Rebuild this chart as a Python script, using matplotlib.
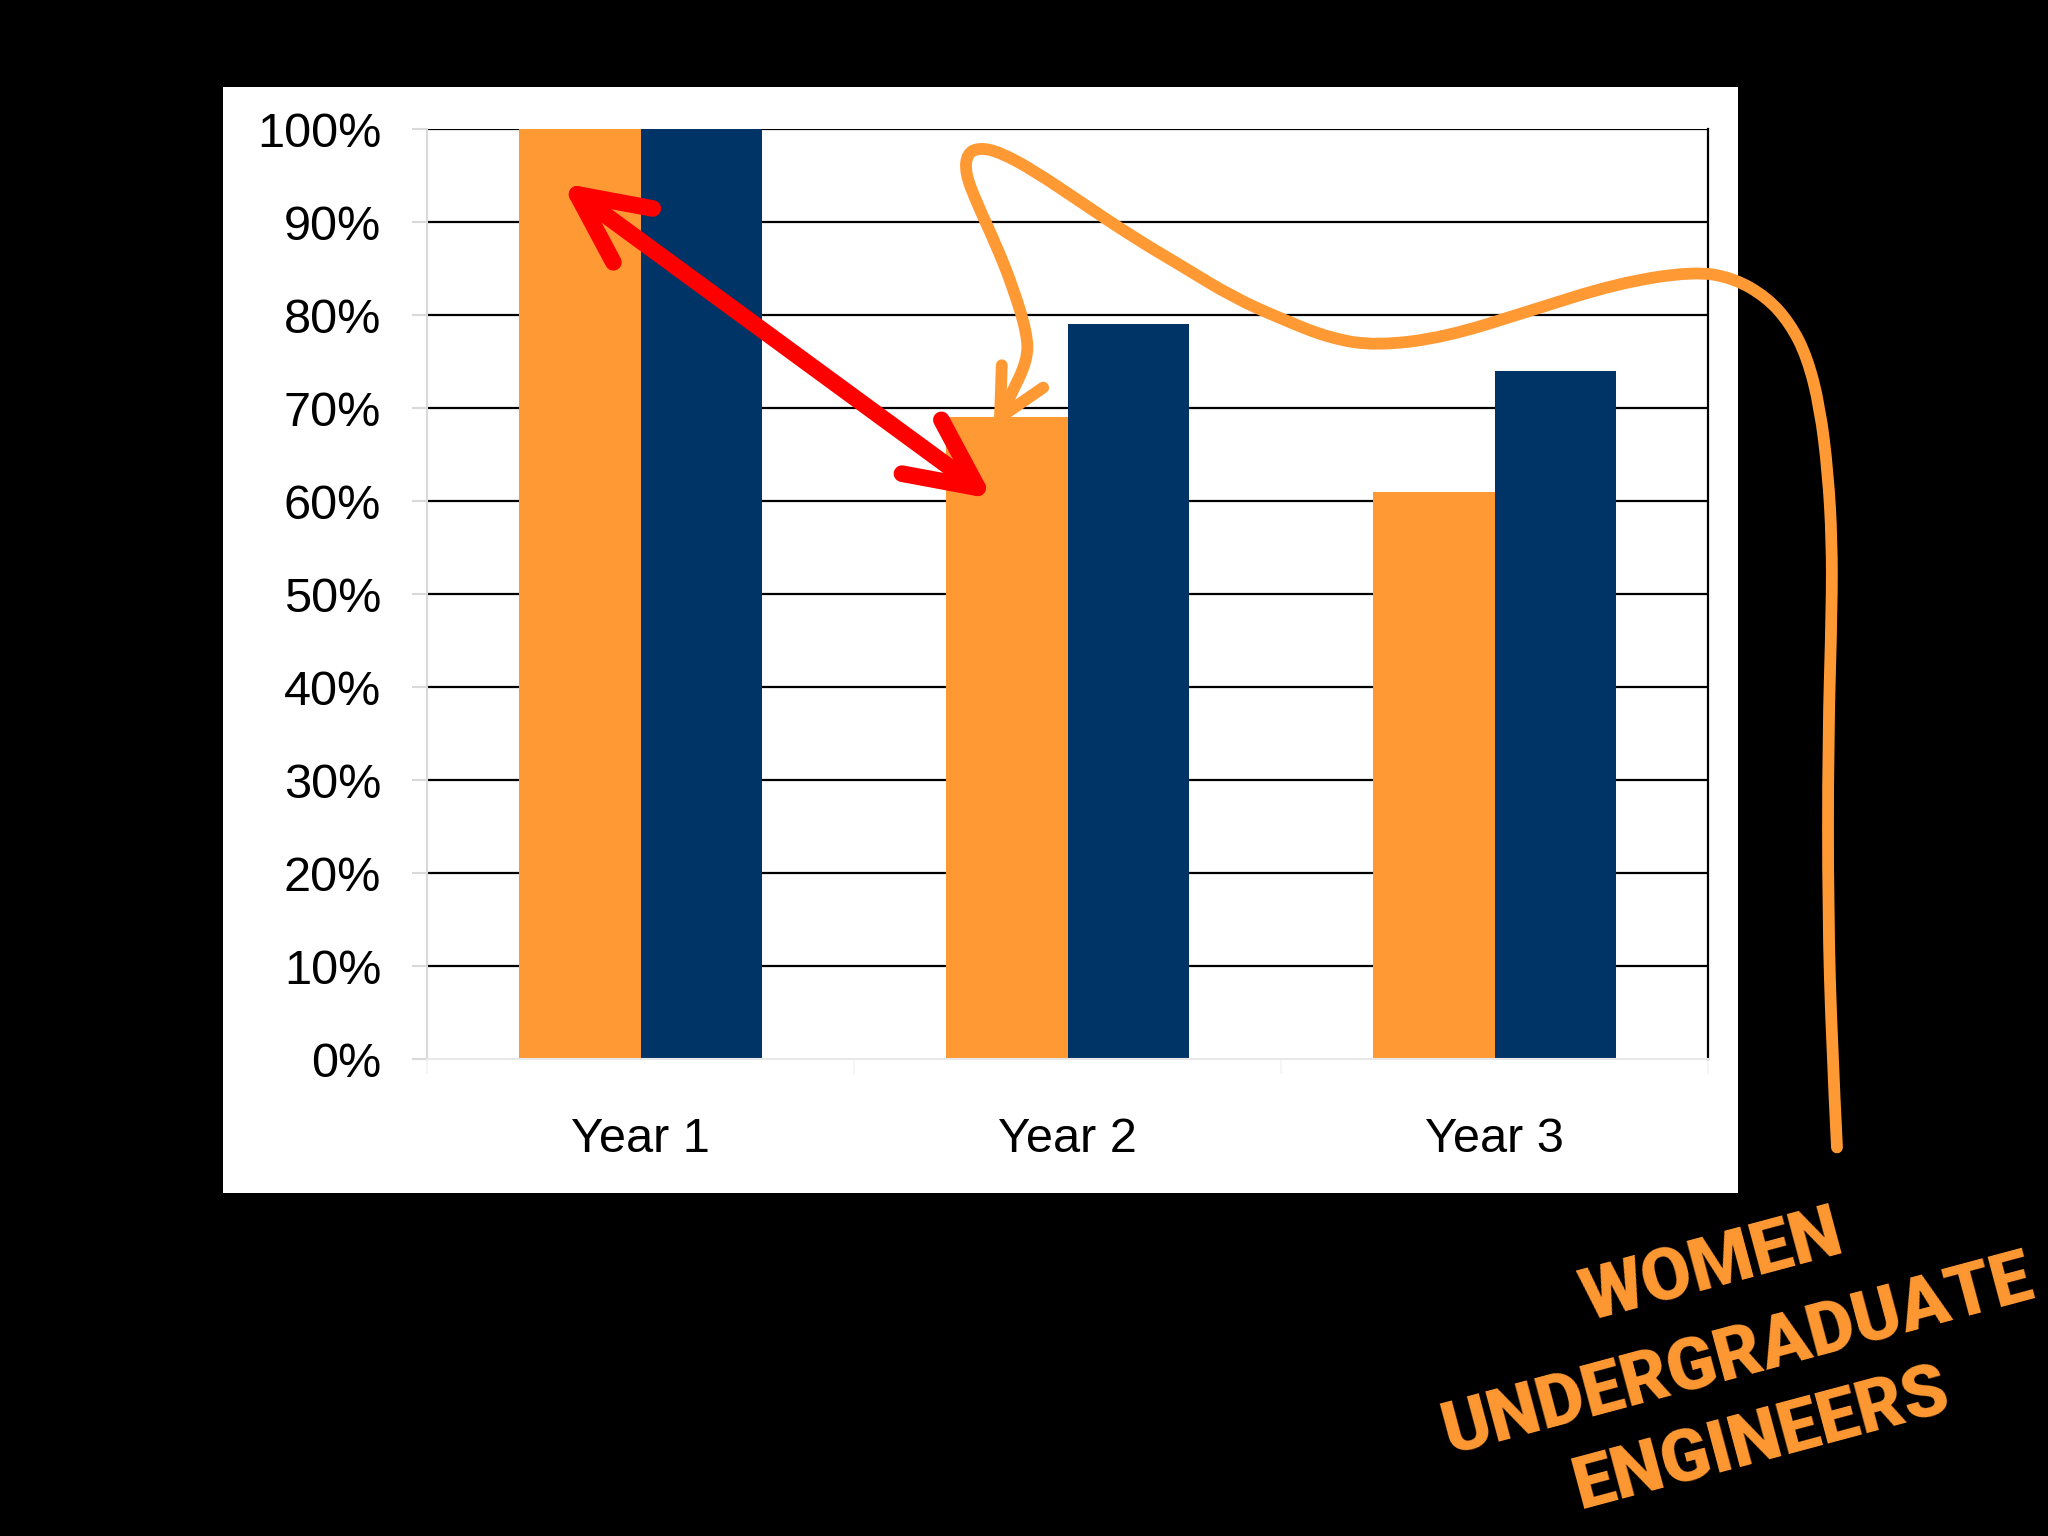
import numpy as np
import matplotlib
matplotlib.use("Agg")
import matplotlib.pyplot as plt
from matplotlib.patches import Rectangle, FancyArrowPatch, PathPatch, ArrowStyle
from matplotlib.path import Path

# ---------------------------------------------------------------
# Datos del gráfico
# ---------------------------------------------------------------
categorias = ["Year 1", "Year 2", "Year 3"]
serie_naranja = [100, 69, 61]   # mujeres
serie_azul = [100, 79, 74]      # referencia
ticks_y = list(range(0, 101, 10))

NARANJA = "#FF9933"
AZUL = "#003366"
ROJO = "#FF0000"

# Trazos a mano alzada (coordenadas de datos: categoría, %)
flecha_roja_a = (-0.185, 94.2)
flecha_roja_b = (0.826, 60.2)

curva_x = [0.842, 0.865, 0.907, 0.905, 0.872, 0.835, 0.788, 0.760, 0.765, 0.795,
           0.842, 0.919, 1.036, 1.153, 1.270, 1.388, 1.505, 1.615, 1.722, 1.884,
           2.086, 2.287, 2.465, 2.559, 2.638, 2.692, 2.732, 2.762, 2.781, 2.790,
           2.790, 2.781, 2.781, 2.790, 2.802]
curva_y = [69.0, 71.2, 75.2, 78.1, 83.0, 87.3, 92.0, 95.3, 97.4, 98.0,
           97.5, 95.6, 92.0, 88.4, 85.2, 81.9, 79.5, 77.5, 76.7, 77.6,
           80.5, 83.4, 84.7, 84.0, 81.9, 79.1, 75.5, 70.1, 63.0, 55.8,
           48.6, 34.3, 15.6, 1.5, -9.5]
punta_curva = (0.842, 69.0)
brazos_curva = [(0.846, 74.6), (0.943, 72.2)]

lineas_texto = ["WOMEN", "UNDERGRADUATE", "ENGINEERS"]
centros_texto = [(0.8359, 0.1745), (0.8486, 0.1165), (0.8600, 0.0620)]


def trazo_suave(xs, ys):
    """Path con curvas cuadráticas que pasa cerca de los puntos trazados."""
    p = np.column_stack([xs, ys])
    n = len(p)
    verts = [p[0]]
    codes = [Path.MOVETO]
    for i in range(1, n - 1):
        fin = p[n - 1] if i == n - 2 else (p[i] + p[i + 1]) / 2
        verts += [p[i], fin]
        codes += [Path.CURVE3, Path.CURVE3]
    return Path(verts, codes)


fig = plt.figure(figsize=(20.48, 15.36), dpi=100, facecolor="black")

# panel blanco de la diapositiva
fig.add_artist(Rectangle((0.1089, 0.2233), 0.7397, 0.7201, transform=fig.transFigure,
                         facecolor="white", edgecolor="none", zorder=0))

ax = fig.add_axes([0.2085, 0.3105, 0.6255, 0.6055])
ax.set_facecolor("white")
ax.set_zorder(1)

x = np.arange(len(categorias))
ancho = 0.2845
ax.hlines(ticks_y[1:], -0.5, 2.5, color="black", lw=1.6, zorder=0.5)
ax.bar(x - ancho / 2, serie_naranja, ancho, color=NARANJA, zorder=2, linewidth=0)
ax.bar(x + ancho / 2, serie_azul, ancho, color=AZUL, zorder=2, linewidth=0)

ax.set_xlim(-0.5, 2.5)
ax.set_ylim(0, 100)
ax.set_yticks(ticks_y)
ax.set_yticklabels([f"{v}%" for v in ticks_y], fontsize=35, family="Liberation Sans")
ax.set_xticks(x)
ax.set_xticklabels(categorias, fontsize=35, family="Liberation Sans")
ax.set_xticks([-0.5, 0.5, 1.5, 2.5], minor=True)
ax.tick_params(axis="y", length=11, width=1.5, color="#d9d9d9", pad=22)
ax.tick_params(axis="x", which="major", length=0, pad=42)
ax.tick_params(axis="x", which="minor", length=11, width=1.2, color="#f3f3f3")

ax.spines["top"].set_visible(False)
ax.spines["left"].set_color("#d9d9d9")
ax.spines["left"].set_linewidth(1.5)
ax.spines["bottom"].set_color("#e8e8e8")
ax.spines["bottom"].set_linewidth(1.5)
ax.spines["right"].set_color("black")
ax.spines["right"].set_linewidth(1.6)

# flecha roja de doble punta
estilo = ArrowStyle("<->", head_length=50, head_width=24)
flecha = FancyArrowPatch(flecha_roja_a, flecha_roja_b, arrowstyle=estilo, mutation_scale=1,
                         color=ROJO, lw=12, capstyle="round", joinstyle="round",
                         shrinkA=0, shrinkB=0, zorder=5, clip_on=False)
ax.add_patch(flecha)

# curva naranja a mano alzada con su punta
curva = PathPatch(trazo_suave(curva_x, curva_y), fill=False, edgecolor=NARANJA, lw=8.5,
                  capstyle="round", joinstyle="round", zorder=6, clip_on=False)
ax.add_patch(curva)
for bx, by in brazos_curva:
    ax.plot([punta_curva[0], bx], [punta_curva[1], by], color=NARANJA, lw=8.5,
            solid_capstyle="round", zorder=6, clip_on=False)

ax.set_xlim(-0.5, 2.5)
ax.set_ylim(0, 100)

# rótulo girado, una línea por texto
for linea, (cx, cy) in zip(lineas_texto, centros_texto):
    fig.text(cx, cy, linea, rotation=15, rotation_mode="anchor", ha="center",
             va="center", fontsize=52, family="Roboto", fontweight="black",
             color=NARANJA, zorder=7)

fig.savefig("out.png", dpi=100, facecolor="black")
